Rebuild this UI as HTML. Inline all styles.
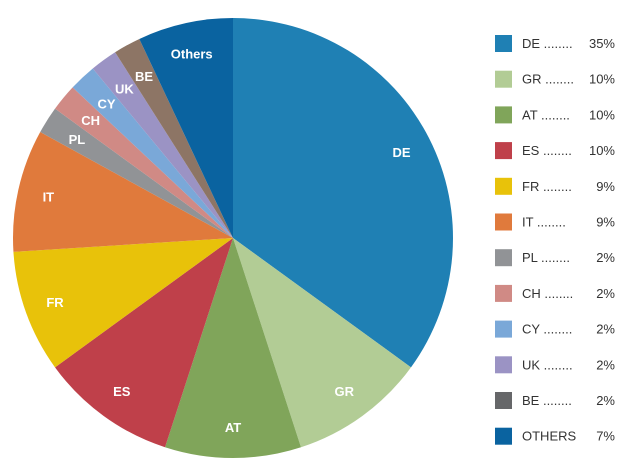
<!DOCTYPE html>
<html><head><meta charset="utf-8"><style>
body{margin:0;background:#fff;}
svg{display:block;font-family:"Liberation Sans",sans-serif;}
</style></head><body>
<svg id="c" width="643" height="474"></svg>
<script>
const categories=["DE","GR","AT","ES","FR","IT","PL","CH","CY","UK","BE","Others"];
const legendNames=["DE","GR","AT","ES","FR","IT","PL","CH","CY","UK","BE","OTHERS"];
const values=[35,10,10,10,9,9,2,2,2,2,2,7];
const pieColors=["#1f80b4","#b2cc95","#80a55a","#bf404a","#e8c20a","#e07a3c","#919396","#d08a85","#7aa8d8","#9b93c4","#8d7565","#0a63a0"];
const legendColors=["#1f80b4","#b2cc95","#80a55a","#bf404a","#e8c20a","#e07a3c","#919396","#d08a85","#7aa8d8","#9b93c4","#666769","#0a63a0"];
const NS="http://www.w3.org/2000/svg";
const svg=document.getElementById("c");
const cx=233,cy=238,r=220;
const total=values.reduce((a,b)=>a+b,0);
function pt(a,rr){return [cx+rr*Math.sin(a),cy-rr*Math.cos(a)];}
let a0=0;
values.forEach((v,i)=>{
  const a1=a0+v/total*2*Math.PI;
  const p0=pt(a0,r),p1=pt(a1,r);
  const large=(a1-a0)>Math.PI?1:0;
  const p=document.createElementNS(NS,"path");
  p.setAttribute("d",`M${cx},${cy}L${p0[0]},${p0[1]}A${r},${r} 0 ${large} 1 ${p1[0]},${p1[1]}Z`);
  p.setAttribute("fill",pieColors[i]);
  
  
  svg.appendChild(p);
  const mid=(a0+a1)/2;
  const lr=v>=5?r*0.86:r*0.84;
  const lp=pt(mid,lr);
  const t=document.createElementNS(NS,"text");
  t.setAttribute("x",lp[0]);t.setAttribute("y",lp[1]+5);
  t.setAttribute("text-anchor","middle");
  t.setAttribute("fill","#fff");t.setAttribute("font-size","13");t.setAttribute("font-weight","bold");
  t.textContent=categories[i];
  
  
  svg.appendChild(t);
  a0=a1;
});
const lg=document.createElementNS(NS,"g");


svg.appendChild(lg);
legendNames.forEach((n,i)=>{
  const y=35+i*35.7;
  const g=document.createElementNS(NS,"g");
  
  
  const s=document.createElementNS(NS,"rect");
  s.setAttribute("x",495);s.setAttribute("y",y);s.setAttribute("width",17);s.setAttribute("height",17);
  s.setAttribute("fill",legendColors[i]);
  g.appendChild(s);
  const t=document.createElementNS(NS,"text");
  t.setAttribute("x",522);t.setAttribute("y",y+13);t.setAttribute("font-size","13");t.setAttribute("fill","#333");
  t.textContent=n==="OTHERS"?n:n+(n.length<2?" ":"")+" ........";
  g.appendChild(t);
  const pc=document.createElementNS(NS,"text");
  pc.setAttribute("x",615);pc.setAttribute("y",y+13);pc.setAttribute("font-size","13");pc.setAttribute("fill","#333");
  pc.setAttribute("text-anchor","end");
  pc.textContent=values[i]+"%";
  g.appendChild(pc);
  lg.appendChild(g);
});
</script>
</body></html>
